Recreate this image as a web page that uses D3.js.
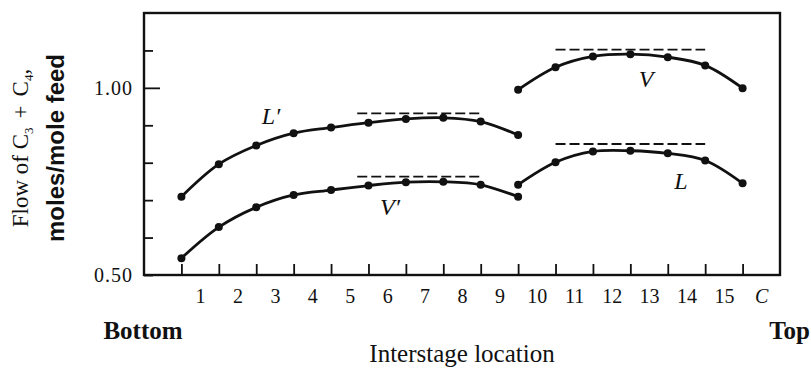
<!DOCTYPE html>
<html>
<head>
<meta charset="utf-8">
<script src="https://cdn.jsdelivr.net/npm/d3@7/dist/d3.min.js"></script>
<style>
body{margin:0;background:#fff;}
text{font-family:"Liberation Serif","Times New Roman",serif;fill:#111;}
</style>
</head>
<body>
<div id="chart"></div>
<script>
// interstage positions (0 = bottom of column)
var lowerStages = [0,1,2,3,4,5,6,7,8,9];
var upperStages = [9,10,11,12,13,14,15];
// flows, moles/mole feed
var lPrime = [0.709,0.796,0.846,0.879,0.894,0.907,0.917,0.920,0.910,0.874];
var vPrime = [0.545,0.628,0.681,0.714,0.727,0.739,0.748,0.749,0.741,0.709];
var vTop = [0.995,1.055,1.084,1.090,1.082,1.060,0.999];
var lTop = [0.741,0.801,0.830,0.832,0.825,0.806,0.745];
// constant molal overflow lines
var pinchFrom = [4.7,4.7,10,10];
var pinchTo = [8.0,8.0,14,14];
var pinchValue = [0.932,0.763,1.102,0.850];
var stageLabels = ["1","2","3","4","5","6","7","8","9","10","11","12","13","14","15","C"];
var yTicks = [0.5,0.6,0.7,0.8,0.9,1.0,1.1];
var yLabels = ["0.50","1.00"];

var w = 811, h = 374;
var margin = {"top":13,"right":31,"bottom":99,"left":144};

var svg = d3.select("#chart").append("svg")
  .attr("width", w)
  .attr("height", h);

var x = d3.scaleLinear()
  .domain([-1, 16])
  .range([margin.left, w - margin.right]);
var y = d3.scaleLinear()
  .domain([0.5, 1.2])
  .range([h - margin.bottom, margin.top]);

//frame
svg.append("rect")
  .attr("x", x(-1)).attr("y", y(1.2))
  .attr("width", x(16) - x(-1))
  .attr("height", y(0.5) - y(1.2))
  .attr("fill", "none")
  .attr("stroke", "#111")
  .attr("stroke-width", 2.4);

//x ticks pointing in
svg.append("g")
  .attr("transform", "translate(0," + y(0.5) + ")")
  .call(d3.axisBottom(x).tickValues(d3.range(0,16)).tickSize(-11).tickFormat(""))
  .call(function(g){
    g.select(".domain").remove();
    g.selectAll("line").attr("stroke","#111").attr("stroke-width",1.8);
  });

//stage numbers sit between the ticks
svg.append("g")
  .attr("transform", "translate(0," + y(0.5) + ")")
  .call(d3.axisBottom(x).tickValues(d3.range(0.5,16,1)).tickSize(0).tickPadding(14)
    .tickFormat(function(d,i){return stageLabels[i];}))
  .call(function(g){
    g.select(".domain").remove();
    g.selectAll("text")
      .style("font-family","'Liberation Serif',serif")
      .style("font-size","20px")
      .attr("fill","#111")
      .style("font-style",function(d,i){return stageLabels[i]==="C"?"italic":"normal";});
  });

//y ticks
svg.append("g")
  .attr("transform", "translate(" + x(-1) + ",0)")
  .call(d3.axisRight(y).tickValues(yTicks).tickSize(9).tickFormat(""))
  .call(function(g){
    g.select(".domain").remove();
    g.selectAll("line").attr("stroke","#111").attr("stroke-width",1.8)
      .attr("x2",function(d){return Math.abs(d-1.0)<1e-6?16:9;});
  });

svg.append("g")
  .attr("transform", "translate(" + x(-1) + ",0)")
  .call(d3.axisLeft(y).tickValues([0.5,1.0]).tickSize(0).tickPadding(11)
    .tickFormat(function(d,i){return yLabels[i];}))
  .call(function(g){
    g.select(".domain").remove();
    g.selectAll("text")
      .style("font-family","'Liberation Serif',serif")
      .style("font-size","20px")
      .style("letter-spacing","1px")
      .attr("fill","#111");
  });

//curves
var line = d3.line()
  .x(function(d){return x(d.s);})
  .y(function(d){return y(d.v);})
  .curve(d3.curveCatmullRom.alpha(0.5));

function pairs(stages, vals){
  return stages.map(function(s,i){return {"s":s,"v":vals[i]};});
}
var series = [pairs(lowerStages,lPrime), pairs(lowerStages,vPrime),
              pairs(upperStages,vTop), pairs(upperStages,lTop)];

series.forEach(function(pts){
  svg.append("path")
    .datum(pts)
    .attr("d", line)
    .attr("fill","none")
    .attr("stroke","#111")
    .attr("stroke-width",2.8);
  svg.selectAll(null)
    .data(pts).enter()
    .append("circle")
    .attr("cx",function(d){return x(d.s);})
    .attr("cy",function(d){return y(d.v);})
    .attr("r",4)
    .attr("fill","#111");
});

//dashed pinch lines
svg.selectAll(".pinch")
  .data(pinchValue).enter()
  .append("line")
  .attr("class","pinch")
  .attr("x1",function(d,i){return x(pinchFrom[i]);})
  .attr("x2",function(d,i){return x(pinchTo[i]);})
  .attr("y1",function(d){return y(d);})
  .attr("y2",function(d){return y(d);})
  .attr("stroke","#111")
  .attr("stroke-width",1.8)
  .attr("stroke-dasharray","10,4");

//curve names
var names = [{"t":"L\u2032","x":271,"y":124},{"t":"V\u2032","x":390,"y":215},
             {"t":"V","x":646,"y":87},{"t":"L","x":681,"y":189}];
svg.selectAll(".lbl")
  .data(names).enter()
  .append("text")
  .attr("x",function(d){return d.x;})
  .attr("y",function(d){return d.y;})
  .attr("text-anchor","middle")
  .style("font-size","24px")
  .style("font-style","italic")
  .text(function(d){return d.t;});

//axis titles
svg.append("text")
  .attr("x",143).attr("y",339)
  .attr("text-anchor","middle")
  .style("font-size","25px").style("font-weight","bold")
  .text("Bottom");
svg.append("text")
  .attr("x",810).attr("y",339)
  .attr("text-anchor","end")
  .style("font-size","25px").style("font-weight","bold")
  .text("Top");
svg.append("text")
  .attr("x",462).attr("y",362)
  .attr("text-anchor","middle")
  .style("font-size","25px")
  .text("Interstage location");

var yt = svg.append("text")
  .attr("transform","translate(28,148) rotate(-90)")
  .attr("text-anchor","middle")
  .style("font-size","23px");
yt.append("tspan").text("Flow of C");
yt.append("tspan").attr("baseline-shift","-35%").style("font-size","13px").text("3");
yt.append("tspan").attr("dx",9).text("+");
yt.append("tspan").attr("dx",9).text("C");
yt.append("tspan").attr("baseline-shift","-35%").style("font-size","13px").text("4");
yt.append("tspan").text(",");

svg.append("text")
  .attr("transform","translate(64,148) rotate(-90)")
  .attr("text-anchor","middle")
  .style("font-family","'Liberation Sans',Arial,sans-serif")
  .style("font-size","24px").style("font-weight","bold")
  .text("moles/mole feed");
</script>
</body>
</html>
